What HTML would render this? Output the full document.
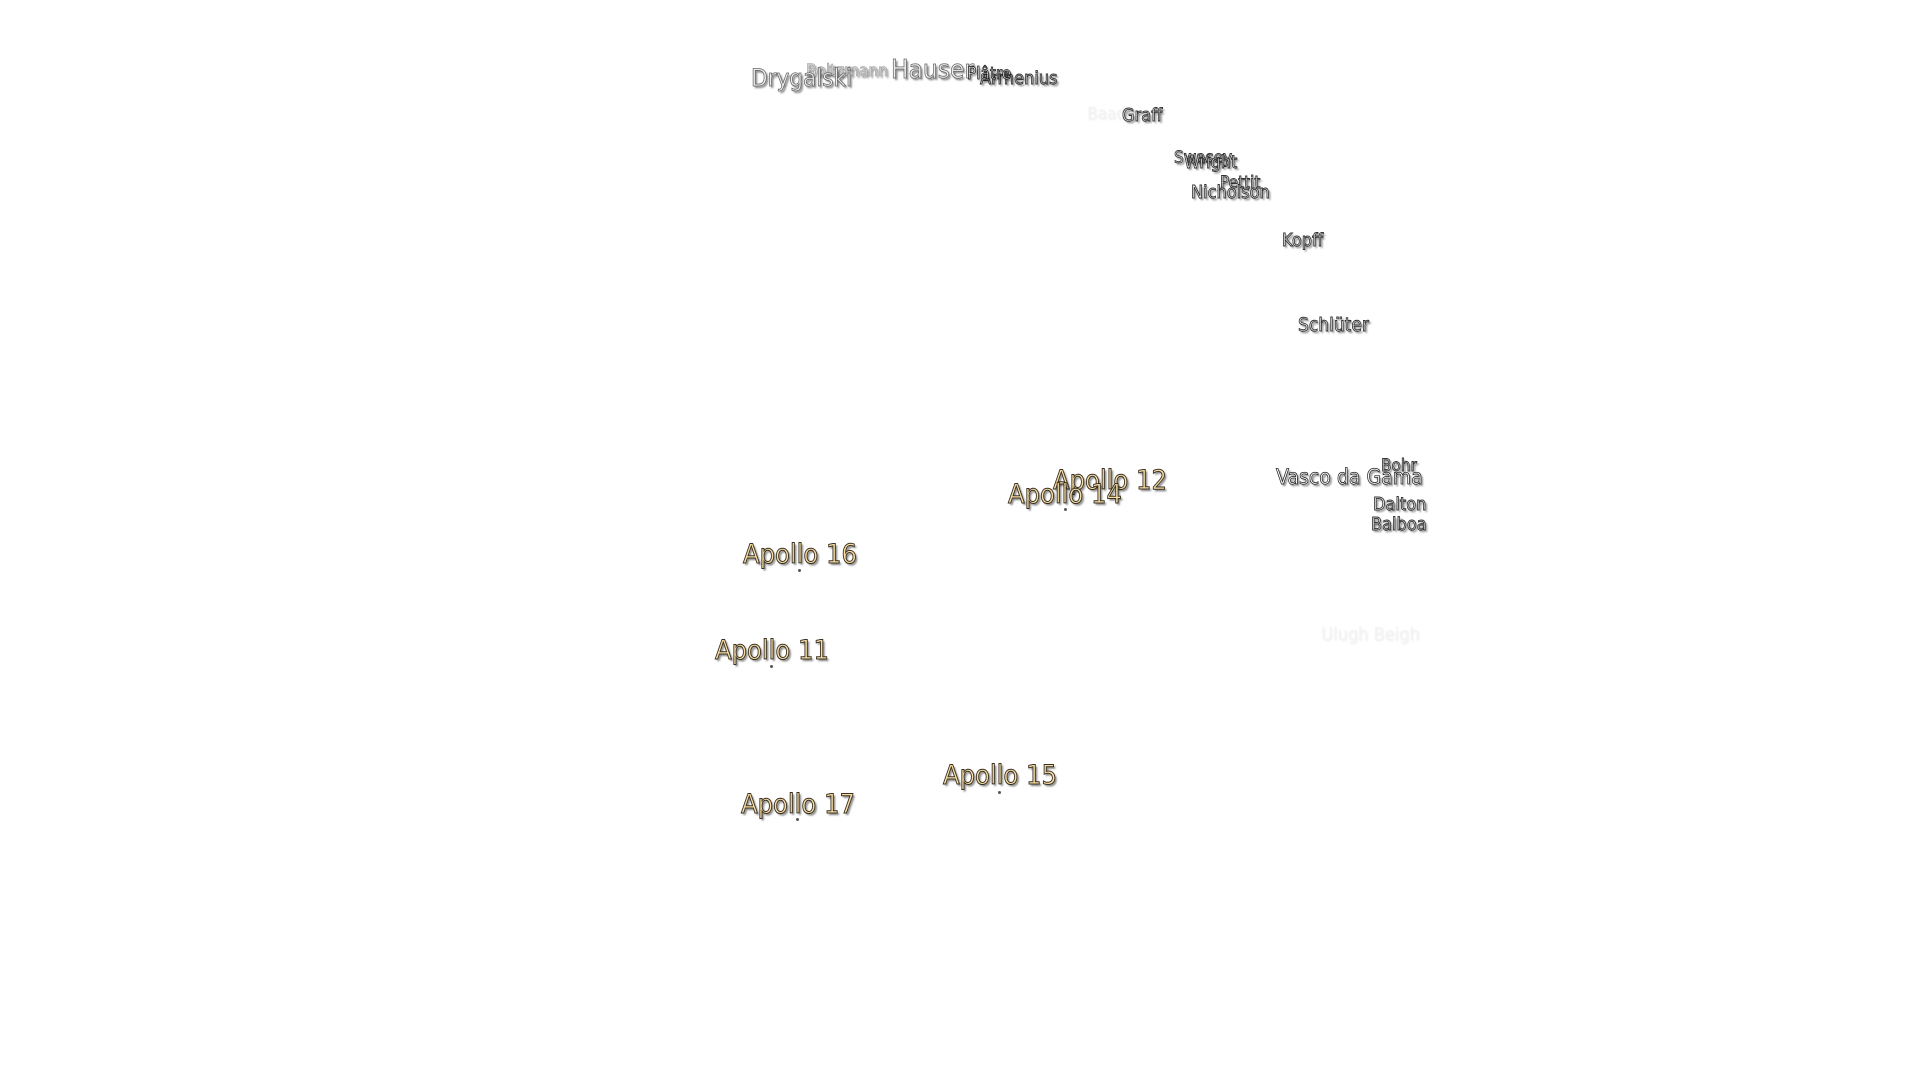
<!DOCTYPE html>
<html><head><meta charset="utf-8"><style>
html,body{margin:0;width:1920px;height:1080px;background:#fff;overflow:hidden}
.t{position:absolute;font-family:"DejaVu Sans","Liberation Sans",sans-serif;white-space:nowrap;line-height:1;color:#f0f0f0;-webkit-text-stroke:0.9px #333;text-shadow:2px 2px 2px rgba(0,0,0,.5);transform:scaleX(0.9);transform-origin:0 0}
.a{color:#f8dfa8;-webkit-text-stroke:1px #3a3020;font-size:27px}
.f{color:#f4f4f4;-webkit-text-stroke:0;text-shadow:1px 1px 2px rgba(0,0,0,.08)}
.d{position:absolute;width:3px;height:3px;background:#555;border-radius:50%}
</style></head><body>
<div class="t" style="left:806px;top:63px;font-size:17px;color:#ddd;-webkit-text-stroke:.6px #999">Boltzmann</div>
<div class="t" style="left:751px;top:66px;font-size:24px;color:#eee;-webkit-text-stroke:.8px #666">Drygalski</div>
<div class="t" style="left:980px;top:70px;font-size:18px;color:#ccc">Arrhenius</div>
<div class="t" style="left:891px;top:57px;font-size:26px;color:#eee;-webkit-text-stroke:.8px #666">Hauser</div>
<div class="t" style="left:967px;top:66px;font-size:17px;color:#fff;-webkit-text-stroke:.8px #111">Plâtre</div>
<div class="t f" style="left:1087px;top:106px;font-size:17px">Baade</div>
<div class="t" style="left:1122px;top:107px;font-size:18px">Graff</div>
<div class="t" style="left:1174px;top:150px;font-size:17px">Swasey</div>
<div class="t" style="left:1184px;top:154px;font-size:18px">Wright</div>
<div class="t" style="left:1220px;top:175px;font-size:17px">Pettit</div>
<div class="t" style="left:1191px;top:184px;font-size:18px">Nicholson</div>
<div class="t" style="left:1282px;top:232px;font-size:18px">Kopff</div>
<div class="t" style="left:1298px;top:316px;font-size:19px">Schlüter</div>
<div class="t" style="left:1381px;top:458px;font-size:17px;color:#ddd">Bohr</div>
<div class="t" style="left:1276px;top:467px;font-size:21px;color:#fff;-webkit-text-stroke:.8px #222">Vasco da Gama</div>
<div class="t" style="left:1373px;top:496px;font-size:18px">Dalton</div>
<div class="t" style="left:1371px;top:516px;font-size:18px;color:#ddd">Balboa</div>
<div class="t f" style="left:1321px;top:626px;font-size:18px">Ulugh Beigh</div>
<div class="t a" style="left:1053px;top:467px">Apollo 12</div>
<div class="t a" style="left:1008px;top:481px">Apollo 14</div>
<div class="t a" style="left:743px;top:541px">Apollo 16</div>
<div class="t a" style="left:715px;top:637px">Apollo 11</div>
<div class="t a" style="left:943px;top:762px">Apollo 15</div>
<div class="t a" style="left:741px;top:791px">Apollo 17</div>
<div class="d" style="left:1064px;top:508px"></div>
<div class="d" style="left:798px;top:569px"></div>
<div class="d" style="left:770px;top:665px"></div>
<div class="d" style="left:998px;top:791px"></div>
<div class="d" style="left:796px;top:818px"></div>
</body></html>
